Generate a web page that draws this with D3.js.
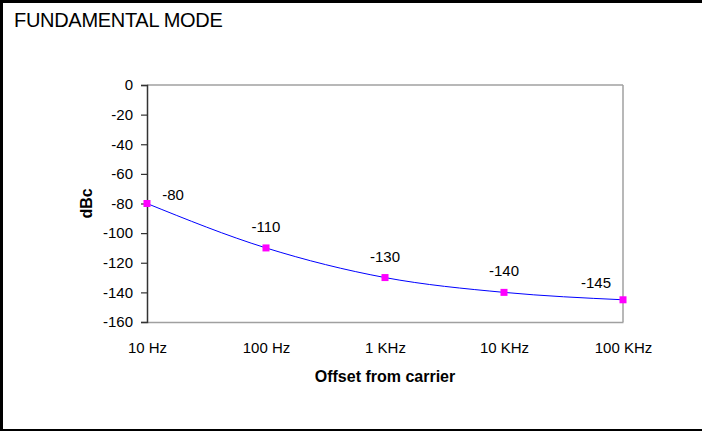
<!DOCTYPE html>
<html><head><meta charset="utf-8">
<script src="https://cdn.jsdelivr.net/npm/d3@7"></script>
<style>
html,body{margin:0;padding:0;background:#fff;}
svg{display:block;font-family:"Liberation Sans",Arial,sans-serif;}
</style></head>
<body>
<svg id="chart" width="702" height="431"></svg>
<script>
const categories = ["10 Hz", "100 Hz", "1 KHz", "10 KHz", "100 KHz"];
const values = [-80, -110, -130, -140, -145];
const yTicks = [0, -20, -40, -60, -80, -100, -120, -140, -160];
const title = "FUNDAMENTAL MODE";
const yTitle = "dBc";
const xTitle = "Offset from carrier";

(function(){
const svg = d3.select("#chart");
const W = 702, H = 431;
const pL = 147, pR = 623, pT = 85, pB = 322;
const FF = "Liberation Sans, Arial, sans-serif";

// outer frame
svg.append("rect").attr("x",0).attr("y",0).attr("width",W).attr("height",3).attr("fill","#000");
svg.append("rect").attr("x",0).attr("y",0).attr("width",3).attr("height",H).attr("fill","#000");
svg.append("rect").attr("x",0).attr("y",429).attr("width",W).attr("height",2).attr("fill","#000");

svg.append("text").attr("x",14).attr("y",27).attr("font-size",20).attr("fill","#000")
  .attr("letter-spacing",-0.3).text(title);

const x = d3.scalePoint().domain(categories).range([pL, pR]);
const y = d3.scaleLinear().domain([-160, 0]).range([pB, pT]);

// plot frame
svg.append("line").attr("x1",pL).attr("x2",pR).attr("y1",pT).attr("y2",pT).attr("stroke","#a0a0a0").attr("stroke-width",1.5);
svg.append("line").attr("x1",pR).attr("x2",pR).attr("y1",pT).attr("y2",pB).attr("stroke","#a0a0a0").attr("stroke-width",1.5);

// x axis
const xAxis = svg.append("g").attr("transform",`translate(0,${pB})`)
  .call(d3.axisBottom(x).tickSize(0).tickPadding(20));
xAxis.select(".domain").attr("stroke","#a0a0a0").attr("stroke-width",1.5);
xAxis.selectAll("text").attr("font-size",15).attr("font-family",FF).attr("fill","#000");

// y axis
const yAxis = svg.append("g").attr("transform",`translate(${pL},0)`)
  .call(d3.axisLeft(y).tickValues(yTicks).tickFormat(d => String(d)).tickSize(6).tickPadding(8));
yAxis.select(".domain").attr("stroke","#333").attr("stroke-width",1.5);
yAxis.selectAll(".tick line").attr("stroke","#333").attr("stroke-width",1.2);
yAxis.selectAll("text").attr("font-size",15).attr("font-family",FF).attr("fill","#000");

// titles
svg.append("text").attr("transform",`translate(92,${(pT+pB)/2}) rotate(-90)`)
  .attr("text-anchor","middle").attr("font-size",16).attr("font-weight","bold").text(yTitle);
svg.append("text").attr("x",385).attr("y",382).attr("text-anchor","middle")
  .attr("font-size",16).attr("font-weight","bold").text(xTitle);

// line
const line = d3.line().x((d,i)=>x(categories[i])).y(d=>y(d)).curve(d3.curveMonotoneX);
svg.append("path").datum(values).attr("d",line).attr("fill","none").attr("stroke","#0000ff").attr("stroke-width",1);

// markers
svg.selectAll(".m").data(values).enter().append("rect")
  .attr("x",(d,i)=>x(categories[i])-3.5).attr("y",d=>y(d)-3.5)
  .attr("width",7).attr("height",7).attr("fill","#ff00ff");

// labels
const n = values.length;
svg.selectAll(".lbl").data(values).enter().append("text")
  .attr("x",(d,i)=>x(categories[i]) + (i===0?26:(i===n-1?-27:0)))
  .attr("y",(d,i)=>y(d) - (i===0?4:(i===n-1?11.5:16)))
  .attr("text-anchor","middle").attr("font-size",15).attr("fill","#000")
  .text(d => String(d));
})();
</script>
</body></html>
